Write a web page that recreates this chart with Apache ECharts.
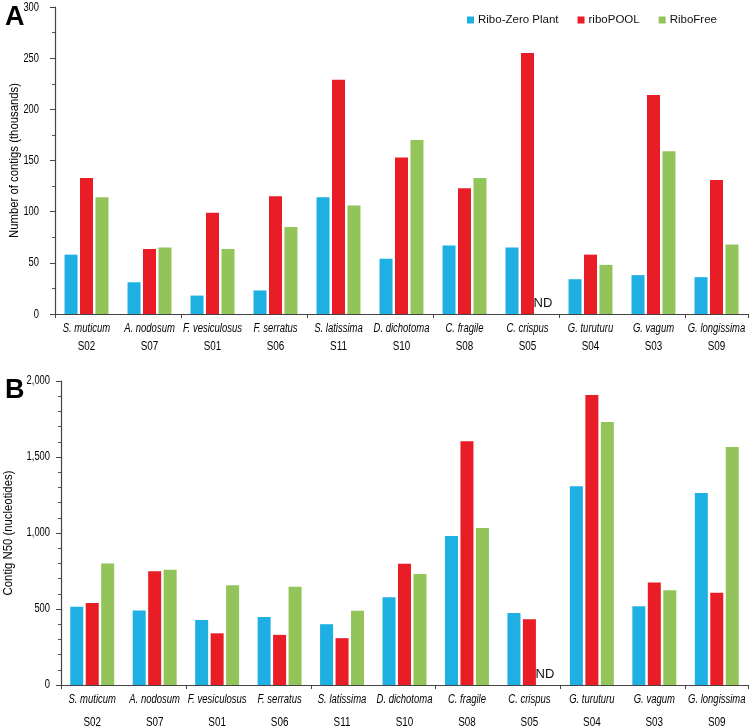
<!DOCTYPE html>
<html><head><meta charset="utf-8">
<script src="https://cdn.jsdelivr.net/npm/echarts@6/dist/echarts.min.js"></script>
<style>html,body{margin:0;padding:0;background:#fff}#c{width:750px;height:727px}</style>
</head><body><div id="c"></div>
<script>
const species = ['S. muticum','A. nodosum','F. vesiculosus','F. serratus','S. latissima','D. dichotoma','C. fragile','C. crispus','G. turuturu','G. vagum','G. longissima'];
const sampleIds = ['S02','S07','S01','S06','S11','S10','S08','S05','S04','S03','S09'];
const seriesNames = ['Ribo-Zero Plant','riboPOOL','RiboFree'];
// Panel A: number of contigs (thousands)
const contigsRiboZero = [58, 31, 18, 23, 114, 54, 67, 65, 34, 38, 36];
const contigsRiboPool = [133, 63.5, 99, 115, 229, 153, 123, 255, 58, 214, 131];
const contigsRiboFree = [114, 65, 63.5, 85, 106, 170, 133, null, 48, 159, 68];
// Panel B: contig N50 (nucleotides)
const n50RiboZero = [515, 490, 428, 448, 400, 577, 980, 473, 1307, 518, 1263];
const n50RiboPool = [540, 748, 340, 330, 308, 798, 1603, 433, 1908, 675, 607];
const n50RiboFree = [800, 758, 657, 647, 488, 730, 1033, null, 1730, 623, 1566];
// Tick labels
const ticksA = [0, 50, 100, 150, 200, 250, 300];
const tickLabelsA = ['0','50','100','150','200','250','300'];
const ticksB = [0, 500, 1000, 1500, 2000];
const tickLabelsB = ['0','500','1,000','1,500','2,000'];
const axisNameA = 'Number of contigs (thousands)';
const axisNameB = 'Contig N50 (nucleotides)';

const colors = ['#1EB0E3','#E91D25','#92C45A'];
const FONT = "Liberation Sans, Arial, sans-serif";
const txt = '#000';

function toData(arr){
  return arr.map(v => v === null ? {value:0, label:{show:true, position:'top', formatter:'ND', color:'#111', fontSize:13, fontFamily:FONT, distance:4}} : v);
}
function catAxis(gridIndex){
  return {
    type:'category', gridIndex, data: species,
    axisLine:{lineStyle:{color:'#444', width:1.2}},
    axisTick:{show:true, length:4, lineStyle:{color:'#444'}},
    axisLabel:{show:false}
  };
}
function valAxis(gridIndex, max, interval, minorSplit){
  return {
    type:'value', gridIndex, min:0, max, interval,
    axisLine:{show:true, lineStyle:{color:'#444', width:1.2}},
    axisTick:{show:true, length:5, lineStyle:{color:'#444'}},
    minorTick:{show:true, splitNumber:minorSplit, length:3, lineStyle:{color:'#555'}},
    splitLine:{show:false},
    axisLabel:{show:false}
  };
}
function ctext(x, y, text, size, opts){
  opts = opts || {};
  return {type:'text', x, y, rotation: opts.rot || 0, scaleX: opts.sx || 0.8,
    style:{text, fontSize:size, fontFamily:FONT, fontStyle: opts.italic ? 'italic' : 'normal', fontWeight:'normal',
      fill: txt, align: opts.align || 'center', verticalAlign:'middle',
      textAlign: opts.align || 'center', textVerticalAlign:'middle'}};
}
// category (x) labels
function xLabelSeries(gi, offS, offD, sizeD){
  return {type:'custom', name:'xlab'+gi, xAxisIndex:gi, yAxisIndex:gi, silent:true, clip:false, z:5,
    data: species.map((s,i)=>[i,0]),
    renderItem:(params, api)=>{
      const i = api.value(0);
      const p = api.coord([i, 0]);
      return {type:'group', children:[
        ctext(p[0], p[1]+offS, species[i], 12.5, {italic:true, sx:0.76}),
        ctext(p[0], p[1]+offD, sampleIds[i], sizeD, {sx:0.76})
      ]};
    }};
}
// value (y) tick labels
function yLabelSeries(gi, ticks, labels, margin, size, sx){
  return {type:'custom', name:'ylab'+gi, xAxisIndex:gi, yAxisIndex:gi, silent:true, clip:false, z:5,
    data: ticks.map((v,k)=>[0, v, k]),
    renderItem:(params, api)=>{
      const v = api.value(1), k = api.value(2);
      const p = api.coord([0, v]);
      const band = api.size([1, 0])[0];
      return ctext(p[0] - band/2 - margin, p[1], labels[k], size, {align:'right', sx});
    }};
}
// axis name
function yNameSeries(gi, name, mid, gap){
  return {type:'custom', name:'yname'+gi, xAxisIndex:gi, yAxisIndex:gi, silent:true, clip:false, z:5,
    data: [[0, mid]],
    renderItem:(params, api)=>{
      const p = api.coord([0, api.value(1)]);
      const band = api.size([1, 0])[0];
      return ctext(p[0] - band/2 - gap, p[1], name, 13.5, {rot:Math.PI/2, sx:0.84});
    }};
}

const chart = echarts.init(document.getElementById('c'), null, {renderer:'canvas'});
const barOpts = {barWidth:13, barGap:'19%'};
const series = [];
[contigsRiboZero, contigsRiboPool, contigsRiboFree].forEach((arr,i)=>{
  series.push(Object.assign({type:'bar', name:seriesNames[i], xAxisIndex:0, yAxisIndex:0, data:toData(arr), itemStyle:{color:colors[i]}}, barOpts));
});
[n50RiboZero, n50RiboPool, n50RiboFree].forEach((arr,i)=>{
  series.push(Object.assign({type:'bar', name:seriesNames[i], xAxisIndex:1, yAxisIndex:1, data:toData(arr), itemStyle:{color:colors[i]}}, barOpts));
});
series.push(xLabelSeries(0, 15, 32, 13));
series.push(xLabelSeries(1, 15, 37, 13));
series.push(yLabelSeries(0, ticksA, tickLabelsA, 16, 13, 0.72));
series.push(yLabelSeries(1, ticksB, tickLabelsB, 11, 12, 0.78));
series.push(yNameSeries(0, axisNameA, 150, 41));
series.push(yNameSeries(1, axisNameB, 1000, 53));

chart.setOption({
  animation:false,
  textStyle:{fontFamily:FONT},
  title:[
    {text:'A', left:0, top:-1, textStyle:{fontSize:27, fontWeight:'bold', color:'#000', fontFamily:FONT}},
    {text:'B', left:0, top:372, textStyle:{fontSize:27, fontWeight:'bold', color:'#000', fontFamily:FONT}}
  ],
  legend:{
    data:seriesNames, top:9, left:462, itemWidth:7, itemHeight:7, itemGap:19,
    icon:'rect', textStyle:{fontSize:11.5, color:'#111', fontFamily:FONT, padding:[0,0,0,-1]}
  },
  grid:[
    {left:55, right:2, top:7, height:307, outerBoundsMode:'none'},
    {left:61, right:2, top:381, height:304, outerBoundsMode:'none'}
  ],
  xAxis:[catAxis(0), catAxis(1)],
  yAxis:[valAxis(0, 300, 50, 2), valAxis(1, 2000, 500, 5)],
  series
});
</script></body></html>
